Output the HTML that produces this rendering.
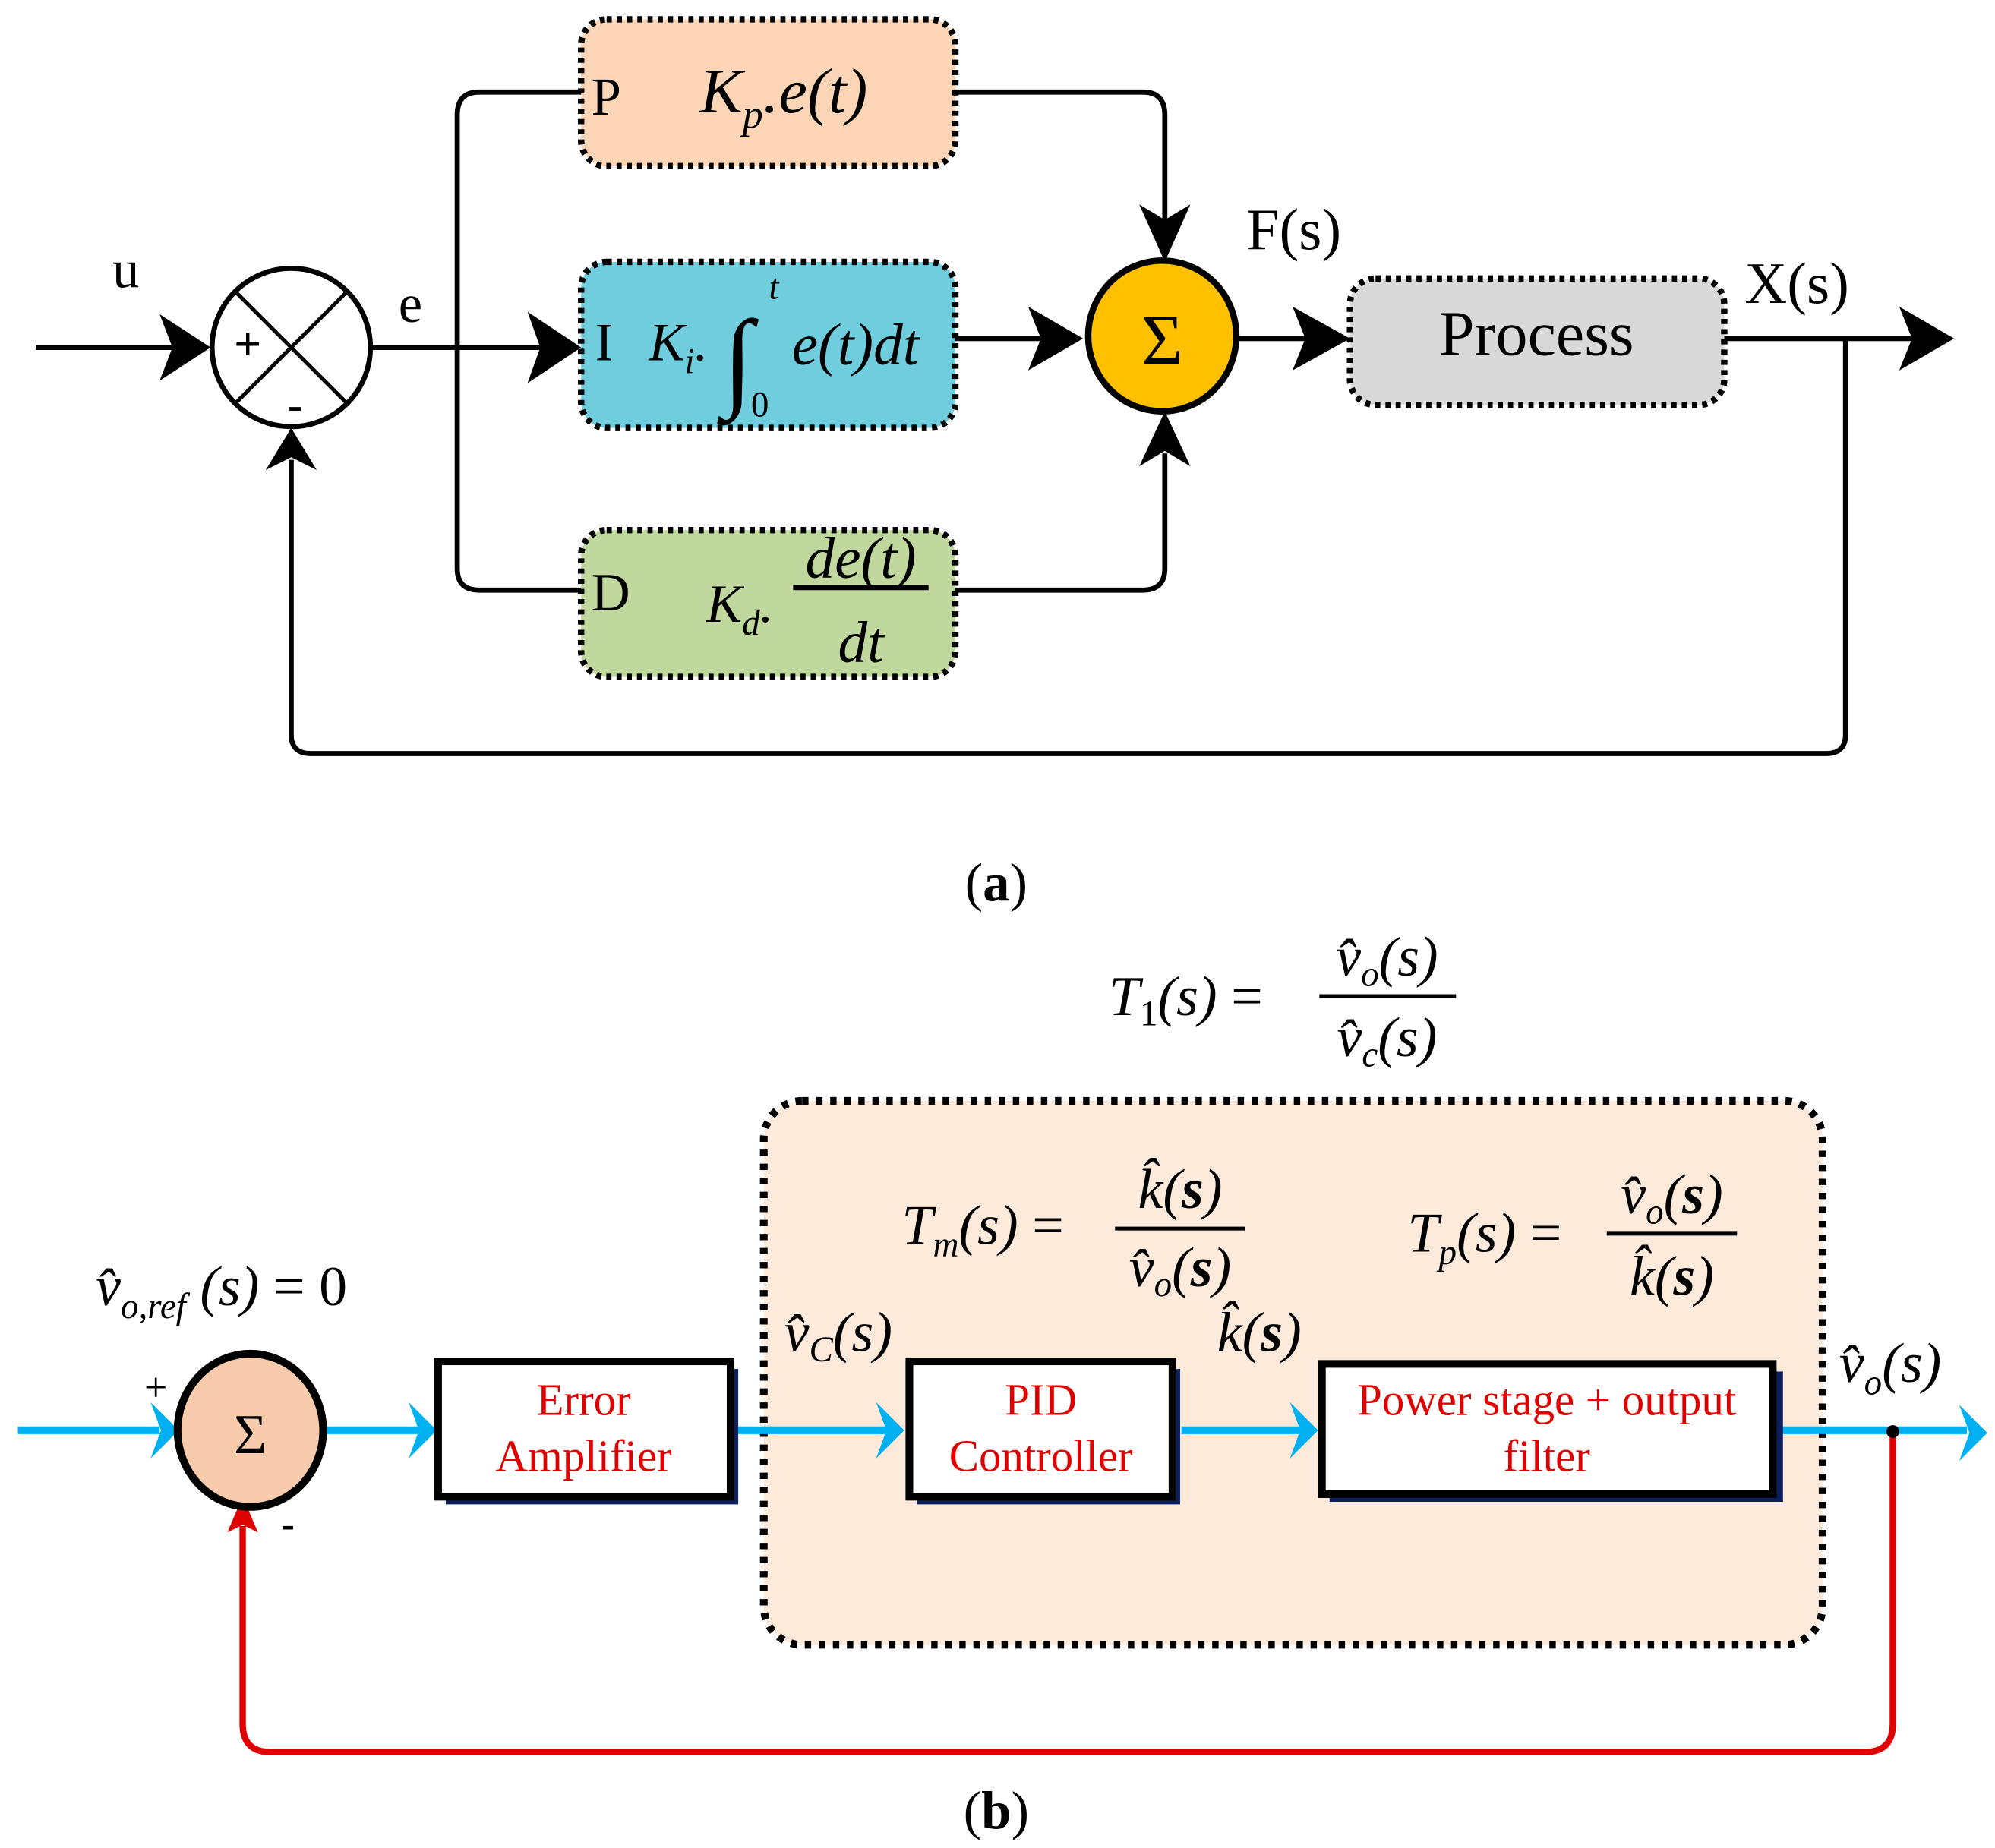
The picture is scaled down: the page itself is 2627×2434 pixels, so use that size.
<!DOCTYPE html>
<html><head><meta charset="utf-8"><style>html,body{margin:0;padding:0;background:#fff}svg{display:block}text{font-family:"Liberation Serif",serif}</style></head><body>
<svg width="2627" height="2434" viewBox="0 0 1562 1447" xmlns="http://www.w3.org/2000/svg">
<g stroke="#000" stroke-width="4" fill="none">
<line x1="28" y1="272" x2="140" y2="272"/>
<path d="M125,246 L165,272 L125,298 L135,272 Z" fill="#000" stroke="none"/>
<circle cx="228" cy="272" r="62" fill="#fff"/>
<line x1="184" y1="228" x2="272" y2="316" stroke-width="3"/>
<line x1="272" y1="228" x2="184" y2="316" stroke-width="3"/>
<line x1="290" y1="272" x2="425" y2="272"/>
<path d="M413,244 L455,272 L413,300 L423,272 Z" fill="#000" stroke="none"/>
<path d="M455,72 L375,72 Q358,72 358,90 L358,445 Q358,462 375,462 L455,462"/>
<path d="M748,72 L895,72 Q912,72 912,90 L912,180"/>
<path d="M892,160 L912,205 L932,160 L912,172 Z" fill="#000" stroke="none"/>
<path d="M748,462 L895,462 Q912,462 912,445 L912,355"/>
<path d="M892,365 L912,322 L932,365 L912,353 Z" fill="#000" stroke="none"/>
<line x1="748" y1="265" x2="820" y2="265"/>
<path d="M805,240 L848,265 L805,290 L815,265 Z" fill="#000" stroke="none"/>
<line x1="970" y1="265" x2="1030" y2="265"/>
<path d="M1012,240 L1057,265 L1012,290 L1022,265 Z" fill="#000" stroke="none"/>
<line x1="1350" y1="265" x2="1500" y2="265"/>
<path d="M1487,240 L1530,265 L1487,290 L1497,265 Z" fill="#000" stroke="none"/>
<path d="M1445,265 L1445,575 Q1445,590 1430,590 L243,590 Q228,590 228,575 L228,360"/>
<path d="M208,368 L228,335 L248,368 L228,358 Z" fill="#000" stroke="none"/>
</g>
<g stroke="#000" stroke-width="5" stroke-dasharray="4 4">
<rect x="455" y="15" width="293" height="115" rx="20" fill="#fbd5b5"/>
<rect x="455" y="205" width="293" height="130" rx="20" fill="#70cddd"/>
<rect x="455" y="415" width="293" height="115" rx="20" fill="#c0d89e"/>
<rect x="1057" y="218" width="293" height="99" rx="20" fill="#d9d9d9"/>
</g>
<ellipse cx="910" cy="263" rx="58" ry="59" fill="#ffc000" stroke="#000" stroke-width="5"/>
<text x="910" y="285" font-size="56" text-anchor="middle">Σ</text>
<text x="194" y="282" font-size="38" font-weight="bold" text-anchor="middle" font-family="Liberation Sans">+</text>
<text x="231" y="328" font-size="34" font-weight="bold" text-anchor="middle" font-family="Liberation Sans">-</text>
<text x="88" y="225" font-size="42">u</text>
<text x="312" y="252" font-size="42">e</text>
<text x="463" y="90" font-size="42">P</text>
<text x="548" y="88" font-size="50" font-style="italic">K<tspan font-size="32" dy="12">p</tspan><tspan dy="-12">.e(t)</tspan></text>
<text x="466" y="282" font-size="42">I</text>
<text x="508" y="282" font-size="42" font-style="italic">K<tspan font-size="28" dy="10">i</tspan><tspan dy="-10">.</tspan></text>
<text x="566" y="310" font-size="86" font-style="italic">∫</text>
<text x="602" y="234" font-size="28" font-style="italic">t</text>
<text x="588" y="326" font-size="28">0</text>
<text x="620" y="285" font-size="46" font-style="italic">e(t)dt</text>
<text x="463" y="478" font-size="42">D</text>
<text x="553" y="487" font-size="42" font-style="italic">K<tspan font-size="28" dy="10">d</tspan><tspan dy="-10">.</tspan></text>
<line x1="621" y1="460" x2="727" y2="460" stroke="#000" stroke-width="4"/>
<text x="674" y="452" font-size="46" font-style="italic" text-anchor="middle">de(t)</text>
<text x="674" y="518" font-size="46" font-style="italic" text-anchor="middle">dt</text>
<text x="976" y="195" font-size="46">F(s)</text>
<text x="1203" y="278" font-size="50" text-anchor="middle">Process</text>
<text x="1366" y="237" font-size="46">X(s)</text>
<text x="780" y="705" font-size="42" text-anchor="middle">(<tspan font-weight="bold">a</tspan>)</text>

<text x="868" y="795" font-size="44" font-style="italic">T<tspan font-size="28" dy="8" font-style="normal">1</tspan><tspan dy="-8">(s) </tspan><tspan font-style="normal">=</tspan></text>
<line x1="1033" y1="780" x2="1140" y2="780" stroke="#000" stroke-width="3"/>
<text x="1086" y="764" font-size="44" font-style="italic" text-anchor="middle">v̂<tspan font-size="28" dy="8">o</tspan><tspan dy="-8">(s)</tspan></text>
<text x="1086" y="827" font-size="44" font-style="italic" text-anchor="middle">v̂<tspan font-size="28" dy="8">c</tspan><tspan dy="-8">(s)</tspan></text>
<rect x="598" y="862" width="829" height="426" rx="30" fill="#fdeada" stroke="#000" stroke-width="6" stroke-dasharray="5 6"/>
<text x="706" y="974" font-size="44" font-style="italic">T<tspan font-size="28" dy="10">m</tspan><tspan dy="-10">(s) </tspan><tspan font-style="normal">=</tspan></text>
<line x1="873" y1="962" x2="975" y2="962" stroke="#000" stroke-width="3"/>
<text x="924" y="946" font-size="44" font-style="italic" text-anchor="middle">k̂(<tspan font-weight="bold">s</tspan>)</text>
<text x="924" y="1007" font-size="44" font-style="italic" text-anchor="middle">v̂<tspan font-size="28" dy="8">o</tspan><tspan dy="-8">(</tspan><tspan font-weight="bold">s</tspan>)</text>
<text x="1102" y="980" font-size="44" font-style="italic">T<tspan font-size="28" dy="10">p</tspan><tspan dy="-10">(s) </tspan><tspan font-style="normal">=</tspan></text>
<line x1="1258" y1="966" x2="1360" y2="966" stroke="#000" stroke-width="3"/>
<text x="1309" y="950" font-size="44" font-style="italic" text-anchor="middle">v̂<tspan font-size="28" dy="8">o</tspan><tspan dy="-8">(</tspan><tspan font-weight="bold">s</tspan>)</text>
<text x="1309" y="1014" font-size="44" font-style="italic" text-anchor="middle">k̂(<tspan font-weight="bold">s</tspan>)</text>
<text x="75" y="1022" font-size="44" font-style="italic">v̂<tspan font-size="28" dy="10">o,ref</tspan><tspan dy="-10"> (s) </tspan><tspan font-style="normal">= 0</tspan></text>
<text x="614" y="1058" font-size="44" font-style="italic">v̂<tspan font-size="28" dy="8">C</tspan><tspan dy="-8">(s)</tspan></text>
<text x="953" y="1058" font-size="44" font-style="italic">k̂(<tspan font-weight="bold">s</tspan>)</text>
<text x="1440" y="1082" font-size="44" font-style="italic">v̂<tspan font-size="28" dy="10">o</tspan><tspan dy="-10">(s)</tspan></text>
<path d="M1482,1120 L1482,1350 Q1482,1372 1460,1372 L212,1372 Q190,1372 190,1350 L190,1195" stroke="#e00000" stroke-width="5" fill="none"/>
<path d="M178,1200 L190,1172 L202,1200 L190,1194 Z" fill="#e00000"/>
<g stroke="#00b0f0" stroke-width="6" fill="none">
<line x1="14" y1="1120" x2="125" y2="1120"/>
<line x1="255" y1="1120" x2="328" y2="1120"/>
<line x1="578" y1="1120" x2="695" y2="1120"/>
<line x1="925" y1="1120" x2="1018" y2="1120"/>
<line x1="1394" y1="1120" x2="1540" y2="1120"/>
</g>
<g fill="#00b0f0">
<path d="M118,1098 L140,1120 L118,1142 L126,1120 Z"/>
<path d="M320,1098 L342,1120 L320,1142 L328,1120 Z"/>
<path d="M686,1098 L708,1120 L686,1142 L694,1120 Z"/>
<path d="M1010,1098 L1032,1120 L1010,1142 L1018,1120 Z"/>
<path d="M1534,1100 L1556,1122 L1534,1144 L1542,1122 Z"/>
</g>
<circle cx="1482" cy="1121" r="5" fill="#000"/>
<ellipse cx="196" cy="1120" rx="57" ry="60" fill="#f8cbad" stroke="#000" stroke-width="6"/>
<text x="196" y="1138" font-size="44" text-anchor="middle">Σ</text>
<text x="113" y="1097" font-size="32">+</text>
<text x="220" y="1204" font-size="32" font-weight="bold">-</text>
<rect x="349" y="1072" width="229" height="106" fill="#0b1f5e"/>
<rect x="343" y="1066" width="229" height="106" fill="#fff" stroke="#000" stroke-width="6"/>
<text x="457" y="1108" font-size="35" fill="#e00000" text-anchor="middle">Error</text>
<text x="457" y="1152" font-size="35" fill="#e00000" text-anchor="middle">Amplifier</text>
<rect x="718" y="1072" width="206" height="106" fill="#0b1f5e"/>
<rect x="712" y="1066" width="206" height="106" fill="#fff" stroke="#000" stroke-width="6"/>
<text x="815" y="1108" font-size="35" fill="#e00000" text-anchor="middle">PID</text>
<text x="815" y="1152" font-size="35" fill="#e00000" text-anchor="middle">Controller</text>
<rect x="1041" y="1074" width="355" height="102" fill="#0b1f5e"/>
<rect x="1035" y="1068" width="353" height="102" fill="#fff" stroke="#000" stroke-width="6"/>
<text x="1211" y="1108" font-size="35" fill="#e00000" text-anchor="middle">Power stage + output</text>
<text x="1211" y="1152" font-size="35" fill="#e00000" text-anchor="middle">filter</text>
<text x="780" y="1432" font-size="42" text-anchor="middle">(<tspan font-weight="bold">b</tspan>)</text>
</svg>
</body></html>
